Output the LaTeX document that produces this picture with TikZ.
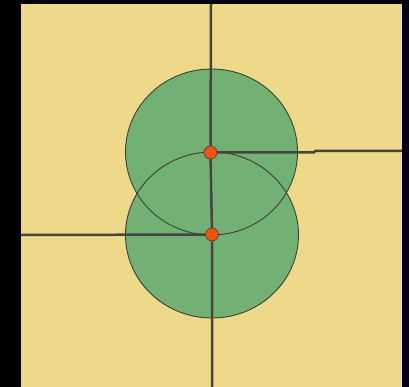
\documentclass[tikz,border=0pt]{standalone}
\usetikzlibrary{backgrounds}
\definecolor{sand}{HTML}{EED98A}
\definecolor{leaf}{HTML}{72B073}
\definecolor{ink}{HTML}{454540}
\definecolor{dotc}{HTML}{FF5000}
\tikzset{
  road/.style={draw=ink, line width=2.5pt},
  rim/.style={draw=ink!90!black, line width=0.9pt},
  disk/.style={fill=leaf},
  pt/.style={circle, fill=dotc, draw=black!70, line width=0.8pt, minimum size=13pt, inner sep=0pt}
}
\begin{document}
\begin{tikzpicture}[x=1pt,y=-1pt]
\useasboundingbox (0,0) rectangle (409,387);
\node[pt] (a) at (210.5,152.5) {};
\node[pt] (b) at (212,234.5) {};
\coordinate (top) at (211,4);
\coordinate (bot) at (212,387);
\coordinate (east) at (402,151);
\coordinate (west) at (21,235);
\begin{pgfonlayer}{background}
\fill[black] (0,0) rectangle (409,387);
\fill[sand] (21,4) rectangle (402,387);
\fill[disk] (211.5,152) ellipse [x radius=86, y radius=83];
\fill[disk] (212,235) ellipse [x radius=86.5, y radius=83];
\draw[rim] (211.5,152) ellipse [x radius=86, y radius=83];
\draw[rim] (212,235) ellipse [x radius=86.5, y radius=83];
\draw[road] (top) -- (a.center) -- (b.center) -- (bot);
\draw[road] (a.center) -- (314,152.5) -- (315,151) -- (east);
\draw[road] (west) -- (b.center);
\end{pgfonlayer}
\end{tikzpicture}
\end{document}
